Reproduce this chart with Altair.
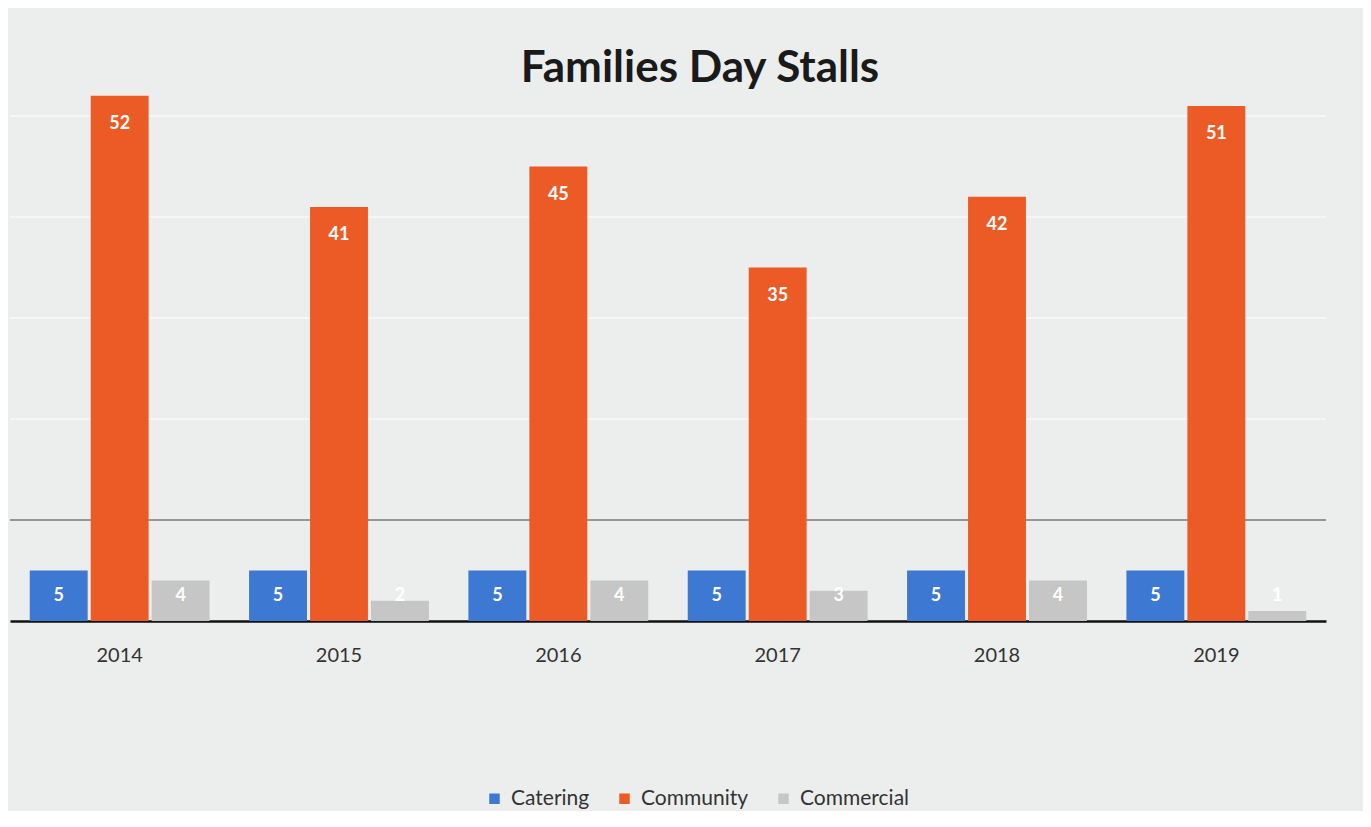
import altair as alt
import pandas as pd

years = ["2014", "2015", "2016", "2017", "2018", "2019"]
series = ["Catering", "Community", "Commercial"]
catering = [5, 5, 5, 5, 5, 5]
community = [52, 41, 45, 35, 42, 51]
commercial = [4, 2, 4, 3, 4, 1]
grid_values = [10, 20, 30, 40, 50]
colors = ["#3d78d3", "#ec5b25", "#c6c6c6"]

rows = []
for i, yr in enumerate(years):
    for s, vals in zip(series, [catering, community, commercial]):
        rows.append({"year": yr, "series": s, "value": vals[i]})
df = pd.DataFrame(rows)
grid_df = pd.DataFrame({"v": grid_values})

W, H = 1316, 606
FONT = "Lato"
yscale = alt.Scale(domain=[0, 60], nice=False, zero=True)

x_enc = alt.X(
    "year:N",
    sort=years,
    scale=alt.Scale(paddingInner=0.18, paddingOuter=0.09),
    axis=alt.Axis(
        title=None, labelAngle=0, ticks=False, domainColor="#111111",
        domainWidth=2.5, labelFontSize=20, labelColor="#333333",
        labelFont=FONT, labelPadding=24, grid=False,
    ),
)
xoff = alt.XOffset("series:N", sort=series, scale=alt.Scale(paddingInner=0.05))
color_enc = alt.Color(
    "series:N",
    sort=series,
    scale=alt.Scale(domain=series, range=colors),
    legend=alt.Legend(
        title=None, orient="none", legendX=474, legendY=773,
        direction="horizontal", symbolType="square", symbolSize=110,
        symbolStrokeWidth=0, labelFontSize=21, labelFont=FONT,
        labelColor="#333333", columnPadding=24, labelOffset=6,
    ),
)

grid = alt.Chart(grid_df).mark_rule().encode(
    y=alt.Y("v:Q", scale=yscale, axis=None),
    color=alt.condition("datum.v == 10", alt.value("#7a7a7a"), alt.value("#f8f8f8")),
    strokeWidth=alt.value(1.5),
)

bars = alt.Chart(df).mark_bar().encode(
    x=x_enc,
    xOffset=xoff,
    y=alt.Y("value:Q", scale=yscale, axis=None),
    color=color_enc,
)

labels = alt.Chart(df).transform_calculate(
    labelPos="max(datum.value - 2.8, 2.5)"
).mark_text(
    color="white", fontWeight="bold", fontSize=18, font=FONT, baseline="middle"
).encode(
    x=alt.X("year:N", sort=years),
    xOffset=alt.XOffset("series:N", sort=series),
    y=alt.Y("labelPos:Q", scale=yscale, axis=None),
    text="value:Q",
)

chart = alt.layer(grid, bars, labels).properties(
    width=W,
    height=H,
    title=alt.Title(
        "Families Day Stalls", fontSize=44, font=FONT, fontWeight="bold",
        color="#1a1a1a", anchor="middle", dy=80, dx=32,
    ),
    autosize=alt.AutoSizeParams(type="none"),
    padding={"left": 2, "top": 7, "right": 37, "bottom": 190},
    background="#eceeee",
).configure_view(stroke=None)

chart.save("out.html", embed_options={"renderer": "svg", "actions": False})
